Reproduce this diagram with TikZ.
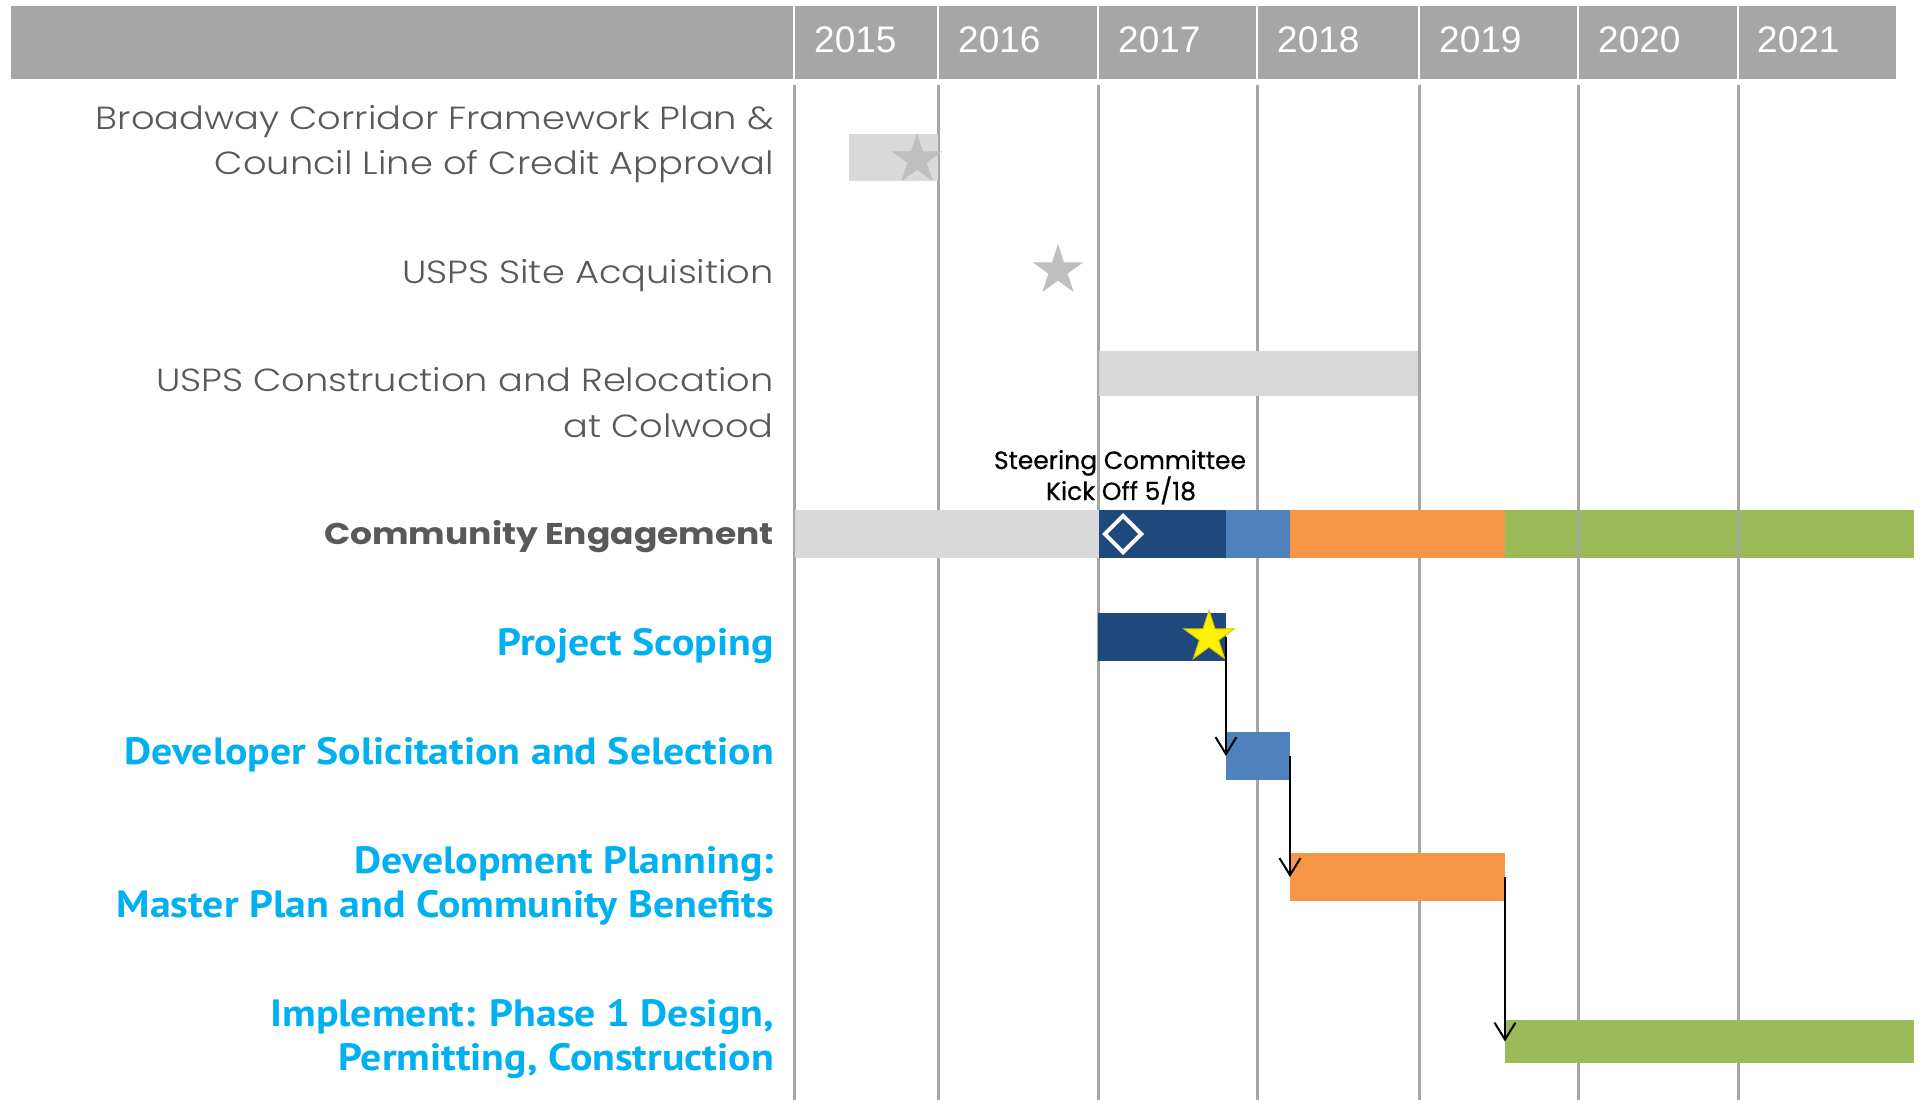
\documentclass[tikz,border=0pt]{standalone}
\usepackage{fontspec}
\setmainfont{Poppins}
\newfontfamily\gothic{Poppins Light}[FakeStretch=1.15]
\newfontfamily\gothicwide{Poppins}[FakeStretch=1.15]
\newfontfamily\notefont{Poppins}[FakeBold=0.6]
\newfontfamily\yearfont{Liberation Sans}
\newfontfamily\taskfont{PT Sans}[FakeStretch=1.1]
\usetikzlibrary{shapes.geometric,arrows.meta}

\definecolor{hdrgray}{HTML}{A6A6A6}
\definecolor{gridgray}{HTML}{A6A6A6}
\definecolor{bargray}{HTML}{D9D9D9}
\definecolor{stargray}{HTML}{BFBFBF}
\definecolor{navy}{HTML}{1F497D}
\definecolor{midblue}{HTML}{4F81BD}
\definecolor{orangebar}{HTML}{F79646}
\definecolor{greenbar}{HTML}{9BBB59}
\definecolor{tasktext}{HTML}{00B0F0}
\definecolor{labeltext}{HTML}{595959}
\definecolor{cetext}{HTML}{595959}
\definecolor{stargold}{HTML}{E0C400}

\tikzset{
  barbox/.style n args={3}{rectangle, inner sep=0pt, outer sep=0pt, anchor=north west,
    fill=#1, minimum width=#2, minimum height=#3},
  yearlabel/.style={anchor=base west, inner sep=0pt, text=white,
    font=\yearfont\fontsize{37}{44}\selectfont},
  graylabel/.style={anchor=base east, inner sep=0pt, text=labeltext,
    font=\gothic\fontsize{32}{40}\selectfont},
  celabel/.style={anchor=base east, inner sep=0pt, text=cetext,
    font=\gothicwide\bfseries\fontsize{30}{38}\selectfont},
  tasklabel/.style={anchor=base east, inner sep=0pt, text=tasktext,
    font=\taskfont\bfseries\fontsize{38}{46}\selectfont},
  notelabel/.style={anchor=base, inner sep=0pt, text=black,
    font=\notefont\fontsize{25}{30}\selectfont},
  milestar/.style={star, star points=5, star point ratio=2.618, inner sep=0pt,
    minimum size=53pt},
  gridline/.style={draw=gridgray, line width=3pt},
  flowarrow/.style={draw=black, line width=2pt,
    -{Straight Barb[length=17pt,width=21pt]}},
}

\begin{document}
\begin{tikzpicture}[x=1pt,y=-1pt]
  \useasboundingbox (0,0) rectangle (1923,1104);
  \fill[white] (0,0) rectangle (1923,1104);

  % header band with year cells
  \fill[hdrgray] (11,6) rectangle (1896,79);
  \foreach \sx in {794,938,1098,1257,1419,1578,1738}
    \draw[white, line width=2.5pt] (\sx,6) -- (\sx,79);
  \node[yearlabel] (y2015) at (814,52) {2015};
  \node[yearlabel] (y2016) at (958,52) {2016};
  \node[yearlabel] (y2017) at (1118,52) {2017};
  \node[yearlabel] (y2018) at (1277,52) {2018};
  \node[yearlabel] (y2019) at (1439,52) {2019};
  \node[yearlabel] (y2020) at (1598,52) {2020};
  \node[yearlabel] (y2021) at (1757,52) {2021};

  % long community engagement segment sits beneath the year rules
  \node[barbox={greenbar}{409pt}{48pt}] (cegreen) at (1505,510) {};

  % year rules
  \foreach \sx in {794,938,1098,1257,1419,1578,1738}
    \draw[gridline] (\sx,85) -- (\sx,1100);

  % row labels
  \node[graylabel] (lblbw1) at (774,129) {Broadway Corridor Framework Plan \&};
  \node[graylabel] (lblbw2) at (774,174) {Council Line of Credit Approval};
  \node[graylabel] (lblsite) at (774,283) {USPS Site Acquisition};
  \node[graylabel] (lblcon1) at (774,391) {USPS Construction and Relocation};
  \node[graylabel] (lblcon2) at (774,437) {at Colwood};
  \node[celabel] (lblce) at (774,544) {Community Engagement};
  \node[tasklabel] (lblps) at (774,655) {Project Scoping};
  \node[tasklabel] (lblds) at (774,764) {Developer Solicitation and Selection};
  \node[tasklabel] (lbldp1) at (774,873) {Development Planning:};
  \node[tasklabel] (lbldp2) at (774,917) {Master Plan and Community Benefits};
  \node[tasklabel] (lblim1) at (774,1026) {Implement: Phase 1 Design,};
  \node[tasklabel] (lblim2) at (774,1070) {Permitting, Construction};

  % earlier milestones
  \node[barbox={bargray}{89pt}{47pt}] (bwbar) at (849,134) {};
  \node[milestar, fill=stargray] (bwstar) at (917,159.5) {};
  \node[milestar, fill=stargray] (sitestar) at (1058,270.5) {};
  \node[barbox={bargray}{319pt}{45pt}] (conbar) at (1099,351) {};

  % community engagement track
  \node[barbox={bargray}{304pt}{48pt}] (cegray) at (795,510) {};
  \node[barbox={navy}{127pt}{48pt}] (cenavy) at (1099,510) {};
  \node[barbox={midblue}{64pt}{48pt}] (ceblue) at (1226,510) {};
  \node[barbox={orangebar}{215pt}{48pt}] (ceorange) at (1290,510) {};
  \node[diamond, draw=white, line width=4pt, minimum width=38pt, minimum height=38pt,
    inner sep=0pt] (kickoff) at (1123,534) {};
  \node[notelabel] (note1) at (1120,469) {Steering Committee};
  \node[notelabel] (note2) at (1121,500) {Kick Off 5/18};

  % project phases
  \node[barbox={navy}{128pt}{48pt}] (ps) at (1098,613) {};
  \node[barbox={midblue}{64pt}{48pt}] (ds) at (1226,732) {};
  \node[barbox={orangebar}{215pt}{48pt}] (dp) at (1290,853) {};
  \node[barbox={greenbar}{409pt}{43pt}] (im) at (1505,1020) {};
  \node[milestar, fill=yellow, draw=stargold, line width=1pt] (psstar) at (1209,637) {};

  % hand-offs between phases
  \draw[flowarrow] (ps.east) -- (ds.west);
  \draw[flowarrow] (ds.east) -- (dp.west);
  \draw[flowarrow] (dp.east) -- (im.west);
\end{tikzpicture}
\end{document}
